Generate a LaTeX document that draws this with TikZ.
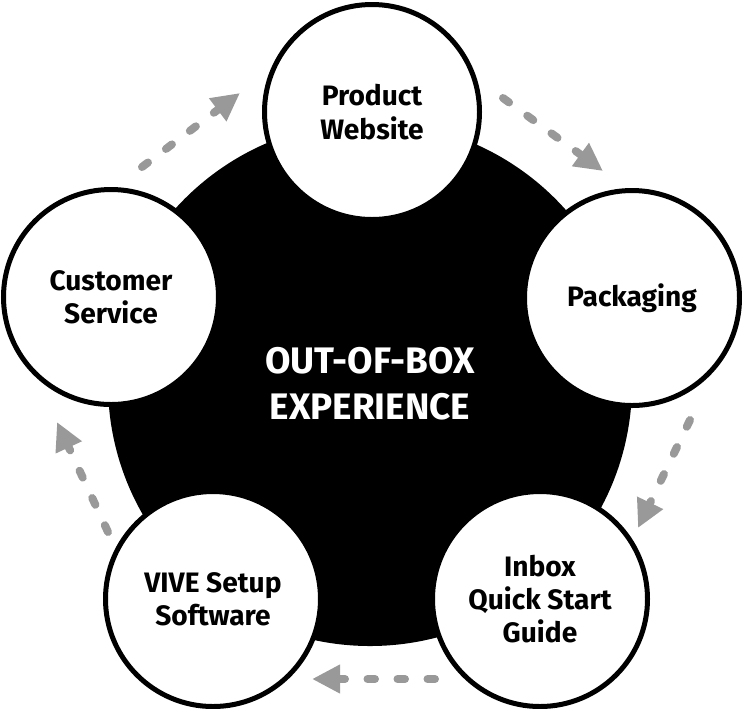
\documentclass[tikz,border=0pt]{standalone}
\usepackage{fontspec}
\setmainfont{Fira Sans}
\usetikzlibrary{arrows.meta}
\definecolor{arrowgray}{RGB}{153,153,153}

\begin{document}
\begin{tikzpicture}[
      hub/.style={circle,fill=black,text=white,minimum size=10.48cm,align=center,
        font=\fontsize{21}{26}\selectfont\bfseries},
      stage/.style={circle,draw=black,line width=0.1cm,fill=white,minimum size=4.3cm,
        align=center,font=\fontsize{16}{19}\selectfont\bfseries},
      arr/.style={arrowgray,line width=0.16cm,line cap=round,
        dash pattern=on 0.15cm off 0.45cm,-{Triangle[length=0.56cm,width=0.54cm]}}
      ]
      \useasboundingbox (0,0) rectangle (14.84,-14.16);
      \node (oobe) [hub] at (7.40,-7.68) {OUT-OF-BOX\\EXPERIENCE};
      \node (web)   [stage] at (7.44,-2.24)   {Product\\Website};
      \node (pack)  [stage] at (12.64,-5.96)  {Packaging};
      \node (guide) [stage] at (10.80,-11.98) {Inbox\\Quick Start\\Guide};
      \node (vive)  [stage] at (4.26,-11.98)  {VIVE Setup\\Software};
      \node (cs)    [stage] at (2.22,-5.94)   {Customer\\Service};
      % arrow ends, just outside the circles
      \coordinate (cs-out)    at (2.84,-3.34);
      \coordinate (web-in)    at (4.80,-1.86);
      \coordinate (web-out)   at (10.06,-1.96);
      \coordinate (pack-in)   at (12.06,-3.42);
      \coordinate (pack-out)  at (13.80,-8.40);
      \coordinate (guide-in)  at (12.76,-10.56);
      \coordinate (guide-out) at (8.70,-13.58);
      \coordinate (vive-in)   at (6.24,-13.58);
      \coordinate (vive-out)  at (2.16,-10.64);
      \coordinate (cs-in)     at (1.14,-8.44);
      \draw[arr] (cs-out) -- (web-in);
      \draw[arr] (web-out) -- (pack-in);
      \draw[arr] (pack-out) -- (guide-in);
      \draw[arr] (guide-out) -- (vive-in);
      \draw[arr] (vive-out) -- (cs-in);
\end{tikzpicture}
\end{document}
